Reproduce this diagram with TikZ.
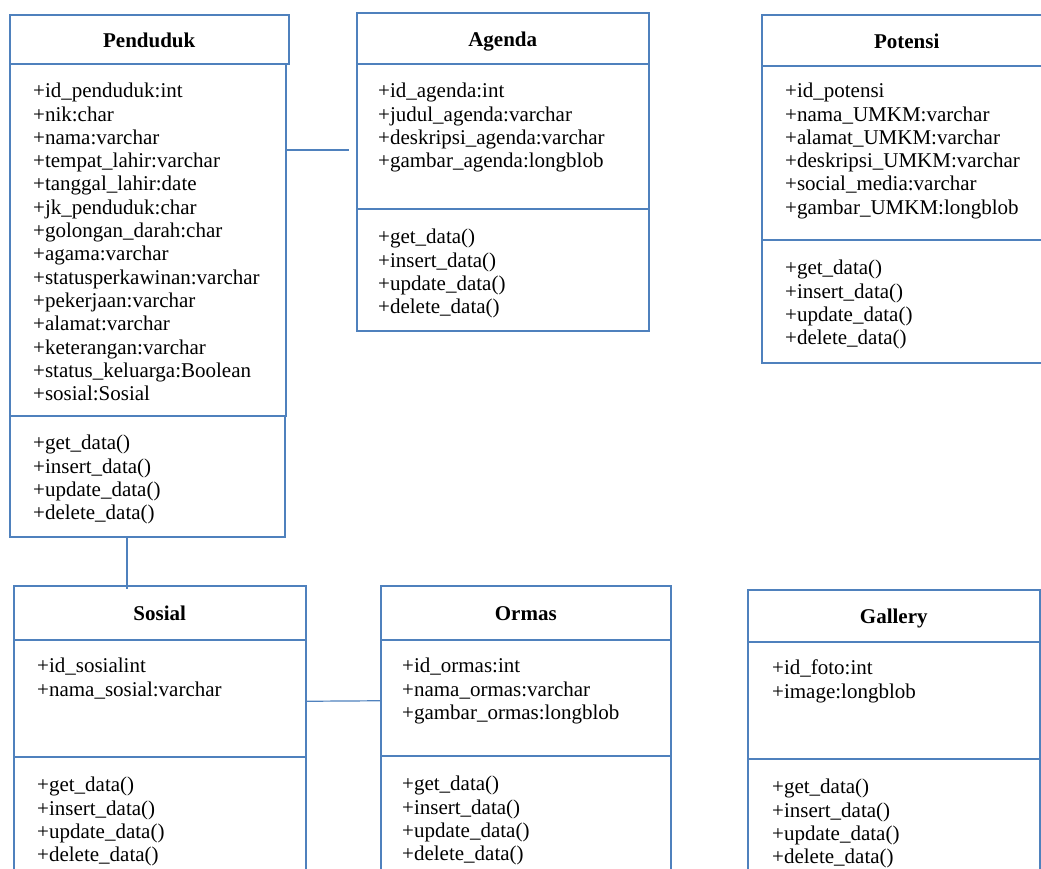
\documentclass[tikz,border=0pt]{standalone}
\usepackage{fontspec}
\setmainfont{Liberation Serif}
\usepackage{tikz}
\usepackage{xcolor}
\definecolor{umlblue}{RGB}{79,129,189}

\begin{document}
\begin{tikzpicture}[x=1pt,y=-1pt,
  box/.style={draw=umlblue,line width=1.5pt,anchor=north west,inner sep=0pt},
  titlebox/.style={box,text height=18pt,text depth=2.5pt,font=\fontsize{21}{23}\selectfont\bfseries},
  items/.style={anchor=north west,inner sep=0pt,align=left,font=\fontsize{21}{23.3}\selectfont},
  link/.style={draw=umlblue,line width=1.2pt}]
\useasboundingbox (0,0) rectangle (1041,868);
\clip (0,0) rectangle (1041,868);
% Penduduk
\node[titlebox,minimum width=279,minimum height=49] (pendTitle) at (9,14) {Penduduk};
\node[box,minimum width=276,minimum height=352] (pendAttr) at (9,63) {};
\node[box,minimum width=275,minimum height=121] (pendMeth) at (9,415) {};
\node[items] (pendAttrText) at ([shift={(24,20)}]pendAttr.north west) {+id\_penduduk:int\\+nik:char\\+nama:varchar\\+tempat\_lahir:varchar\\+tanggal\_lahir:date\\+jk\_penduduk:char\\+golongan\_darah:char\\+agama:varchar\\+statusperkawinan:varchar\\+pekerjaan:varchar\\+alamat:varchar\\+keterangan:varchar\\+status\_keluarga:Boolean\\+sosial:Sosial};
\node[items] (pendMethText) at ([shift={(24,20)}]pendMeth.north west) {+get\_data()\\+insert\_data()\\+update\_data()\\+delete\_data()};
% Agenda
\node[titlebox,minimum width=292,minimum height=51] (agendaTitle) at (356,12) {Agenda};
\node[box,minimum width=292,minimum height=145] (agendaAttr) at (356,63) {};
\node[box,minimum width=292,minimum height=122] (agendaMeth) at (356,208) {};
\node[items] (agendaAttrText) at ([shift={(22,20)}]agendaAttr.north west) {+id\_agenda:int\\+judul\_agenda:varchar\\+deskripsi\_agenda:varchar\\+gambar\_agenda:longblob};
\node[items] (agendaMethText) at ([shift={(22,21)}]agendaMeth.north west) {+get\_data()\\+insert\_data()\\+update\_data()\\+delete\_data()};
% Potensi
\node[titlebox,minimum width=300,minimum height=51] (potTitle) at (761,14) {\hspace*{-10pt}Potensi};
\node[box,minimum width=300,minimum height=174] (potAttr) at (761,65) {};
\node[box,minimum width=300,minimum height=123] (potMeth) at (761,239) {};
\node[items] (potAttrText) at ([shift={(24,18)}]potAttr.north west) {+id\_potensi\\+nama\_UMKM:varchar\\+alamat\_UMKM:varchar\\+deskripsi\_UMKM:varchar\\+social\_media:varchar\\+gambar\_UMKM:longblob};
\node[items] (potMethText) at ([shift={(24,21)}]potMeth.north west) {+get\_data()\\+insert\_data()\\+update\_data()\\+delete\_data()};
% Sosial
\node[titlebox,minimum width=292,minimum height=54] (sosTitle) at (13,585) {Sosial};
\node[box,minimum width=292,minimum height=117] (sosAttr) at (13,639) {};
\node[box,minimum width=292,minimum height=150] (sosMeth) at (13,756) {};
\node[items] (sosAttrText) at ([shift={(24,19)}]sosAttr.north west) {+id\_sosialint\\+nama\_sosial:varchar};
\node[items] (sosMethText) at ([shift={(24,21)}]sosMeth.north west) {+get\_data()\\+insert\_data()\\+update\_data()\\+delete\_data()};
% Ormas
\node[titlebox,minimum width=290,minimum height=54] (ormasTitle) at (380,585) {Ormas};
\node[box,minimum width=290,minimum height=116] (ormasAttr) at (380,639) {};
\node[box,minimum width=290,minimum height=150] (ormasMeth) at (380,755) {};
\node[items] (ormasAttrText) at ([shift={(22,19)}]ormasAttr.north west) {+id\_ormas:int\\+nama\_ormas:varchar\\+gambar\_ormas:longblob};
\node[items] (ormasMethText) at ([shift={(22,21)}]ormasMeth.north west) {+get\_data()\\+insert\_data()\\+update\_data()\\+delete\_data()};
% Gallery
\node[titlebox,minimum width=292,minimum height=52] (galTitle) at (747,589) {Gallery};
\node[box,minimum width=292,minimum height=117] (galAttr) at (747,641) {};
\node[box,minimum width=292,minimum height=150] (galMeth) at (747,758) {};
\node[items] (galAttrText) at ([shift={(25,19)}]galAttr.north west) {+id\_foto:int\\+image:longblob};
\node[items] (galMethText) at ([shift={(25,21)}]galMeth.north west) {+get\_data()\\+insert\_data()\\+update\_data()\\+delete\_data()};
% connectors
\coordinate (agendaLink) at (349,150);
\coordinate (sosLink) at (127,589);
\draw[link] (agendaLink -| pendAttr.east) -- (agendaLink);
\draw[link] (sosLink |- pendMeth.south) -- (sosLink);
\draw[link] ([yshift=-3pt]sosAttr.east) -- ([yshift=-3pt]ormasAttr.west);
\end{tikzpicture}
\end{document}
